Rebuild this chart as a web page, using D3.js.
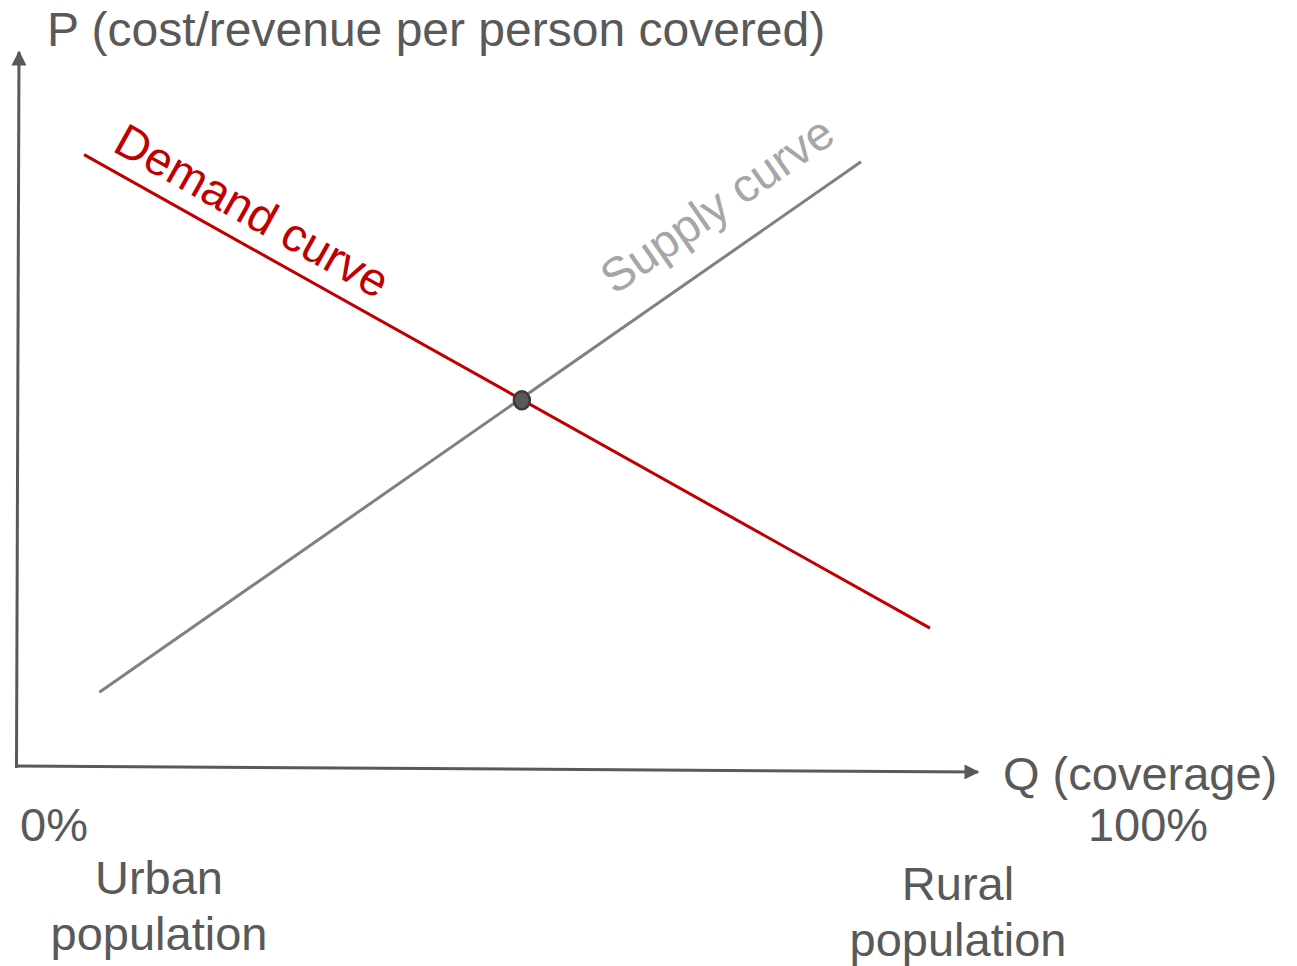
<!DOCTYPE html>
<html>
<head>
<meta charset="utf-8">
<script src="https://cdn.jsdelivr.net/npm/d3@7"></script>
<style>
  body { margin: 0; background: #fff; }
  text { font-family: "Liberation Sans", Arial, sans-serif; }
</style>
</head>
<body>
<svg width="1297" height="966"></svg>
<script>
var svg = d3.select('svg'),
  width = +svg.attr('width'),
  height = +svg.attr('height');

// data, in % of axis range
var demandQ = [7.0, 95.3];
var demandP = [86.0, 19.5];
var supplyQ = [8.6, 88.1];
var supplyP = [10.5, 85.0];
var equilibrium = [52.7, 51.5];

var axisLabelP = 'P (cost/revenue per person covered)';
var axisLabelQ = 'Q (coverage)';
var tickLabels = ['0%', '100%'];
var groupLabels = [['Urban', 'population'], ['Rural', 'population']];

var grey = '#595959';
var fontSize = 47;

var x = d3.scaleLinear().domain([0, 100]).range([17, 975]);
var y = d3.scaleLinear().domain([0, 100]).range([767, 55]);

var defs = svg.append('defs');
defs.append('marker')
  .attr('id', 'arrow')
  .attr('viewBox', '0 0 10 10')
  .attr('refX', 9)
  .attr('refY', 5)
  .attr('markerWidth', 5.5)
  .attr('markerHeight', 5)
  .attr('markerUnits', 'strokeWidth')
  .attr('orient', 'auto')
  .append('path')
  .attr('d', 'M0,0L10,5L0,10Z')
  .attr('fill', grey);

// axes (the original is drawn slightly askew)
svg.append('line')
  .attr('x1', x(0) - 0.5).attr('y1', y(0) + 1)
  .attr('x2', x(0) + 2).attr('y2', y(100) - 3)
  .attr('stroke', grey).attr('stroke-width', 3)
  .attr('marker-end', 'url(#arrow)');

svg.append('line')
  .attr('x1', x(0) - 1.5).attr('y1', y(0) - 1)
  .attr('x2', x(100) + 3).attr('y2', y(0) + 5)
  .attr('stroke', grey).attr('stroke-width', 3)
  .attr('marker-end', 'url(#arrow)');

// curves
var curves = [
  { name: 'Demand curve', q: demandQ, p: demandP, color: '#C00000', text: '#C00000', at: 0.022, off: 17 },
  { name: 'Supply curve', q: supplyQ, p: supplyP, color: '#808080', text: '#A6A6A6', at: 0.7, off: 31 }
];

curves.forEach(function(c) {
  var x1 = x(c.q[0]), y1 = y(c.p[0]), x2 = x(c.q[1]), y2 = y(c.p[1]);
  svg.append('line')
    .attr('x1', x1).attr('y1', y1)
    .attr('x2', x2).attr('y2', y2)
    .attr('stroke', c.color)
    .attr('stroke-width', 3);

  var angle = Math.atan2(y2 - y1, x2 - x1);
  var deg = angle * 180 / Math.PI;
  var px = x1 + (x2 - x1) * c.at, py = y1 + (y2 - y1) * c.at;
  // normal pointing "up" from the line
  var nx = Math.sin(angle), ny = -Math.cos(angle);
  if (ny > 0) { nx = -nx; ny = -ny; }
  var tx = px + nx * c.off, ty = py + ny * c.off;
  svg.append('text')
    .attr('transform', 'translate(' + tx + ',' + ty + ') rotate(' + deg + ')')
    .attr('fill', c.text)
    .attr('font-size', fontSize)
    .text(c.name);
});

// equilibrium point
svg.append('ellipse')
  .attr('cx', x(equilibrium[0]))
  .attr('cy', y(equilibrium[1]))
  .attr('rx', 8).attr('ry', 9)
  .attr('fill', '#595959')
  .attr('stroke', '#3a3a3a')
  .attr('stroke-width', 2.5);

// labels
svg.append('text')
  .attr('x', 47).attr('y', 46)
  .attr('fill', grey).attr('font-size', 48)
  .text(axisLabelP);

svg.append('text')
  .attr('x', 1003).attr('y', 790)
  .attr('fill', grey).attr('font-size', fontSize)
  .text(axisLabelQ);

svg.append('text')
  .attr('x', 20).attr('y', 841)
  .attr('fill', grey).attr('font-size', fontSize)
  .text(tickLabels[0]);

svg.append('text')
  .attr('x', 1148).attr('y', 841)
  .attr('text-anchor', 'middle')
  .attr('fill', grey).attr('font-size', fontSize)
  .text(tickLabels[1]);

var groupPos = [{ cx: 159, y: 894 }, { cx: 958, y: 900 }];
groupLabels.forEach(function(lines, i) {
  svg.append('text')
    .attr('text-anchor', 'middle')
    .attr('fill', grey).attr('font-size', fontSize)
    .selectAll('tspan')
    .data(lines)
    .enter()
    .append('tspan')
    .attr('x', groupPos[i].cx)
    .attr('y', function(d, j) { return groupPos[i].y + j * 56; })
    .text(function(d) { return d; });
});
</script>
</body>
</html>
